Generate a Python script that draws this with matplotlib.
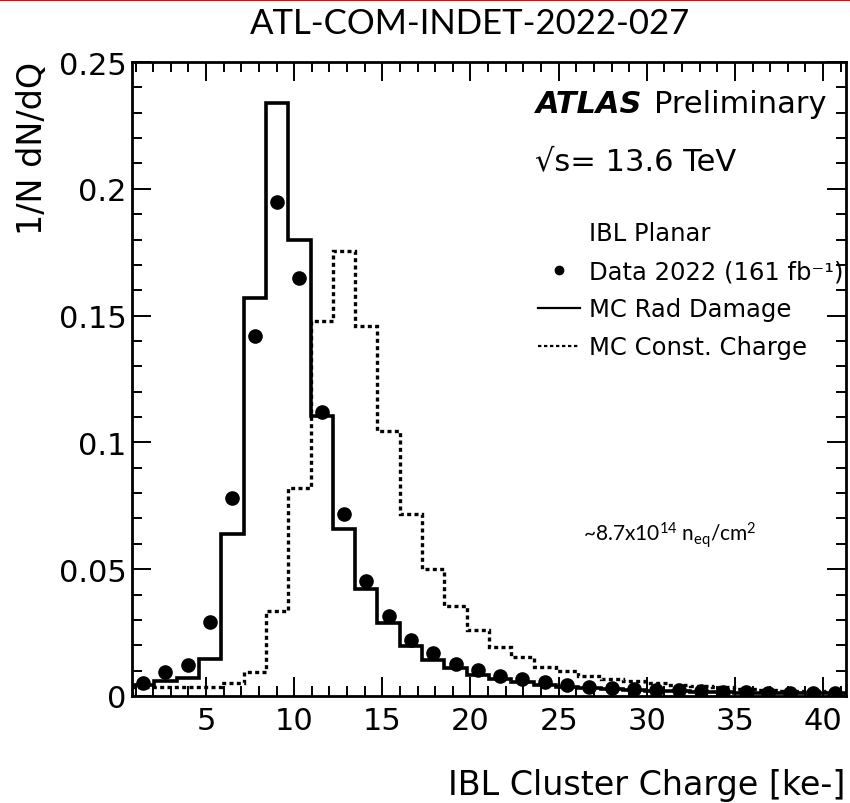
"""ATLAS Preliminary: IBL planar cluster charge, 2022 data vs two MC models."""

from pathlib import Path

import numpy as np
from matplotlib import pyplot as plt
from matplotlib.figure import Figure
from matplotlib.lines import Line2D
from matplotlib.ticker import FuncFormatter, MultipleLocator

# 32 equal-width bins in cluster charge [ke-]
BIN_LOW = 0.8
BIN_HIGH = 41.3
N_BINS = 32

# normalised entries per bin (1/N dN/dQ)
DATA_2022 = [
    0.0052, 0.0094, 0.0123, 0.0290, 0.0780, 0.1420, 0.1950, 0.1650,
    0.1120, 0.0717, 0.0454, 0.0316, 0.0222, 0.0170, 0.0127, 0.0104,
    0.0080, 0.0067, 0.0054, 0.0045, 0.0037, 0.0032, 0.0028, 0.0025,
    0.0022, 0.0019, 0.0016, 0.0014, 0.0013, 0.0012, 0.0012, 0.0011,
]
MC_RAD_DAMAGE = [
    0.0045, 0.0060, 0.0070, 0.0145, 0.0640, 0.1570, 0.2340, 0.1800,
    0.1106, 0.0660, 0.0420, 0.0287, 0.0197, 0.0140, 0.0110, 0.0083,
    0.0067, 0.0054, 0.0042, 0.0035, 0.0030, 0.0026, 0.0022, 0.0020,
    0.0018, 0.0016, 0.0014, 0.0013, 0.0012, 0.0011, 0.0010, 0.0010,
]
MC_CONST_CHARGE = [
    0.0037, 0.0036, 0.0035, 0.0037, 0.0052, 0.0094, 0.0336, 0.0819,
    0.1480, 0.1753, 0.1460, 0.1044, 0.0718, 0.0499, 0.0355, 0.0259,
    0.0193, 0.0153, 0.0116, 0.0100, 0.0078, 0.0067, 0.0058, 0.0051,
    0.0043, 0.0038, 0.0034, 0.0028, 0.0024, 0.0020, 0.0018, 0.0015,
]

X_TICKS = [5, 10, 15, 20, 25, 30, 35, 40]
Y_TICKS = [0.0, 0.05, 0.10, 0.15, 0.20, 0.25]

LEGEND_LABELS = [
    "IBL Planar",
    "Data 2022 (161 fb\u207b\u00b9)",
    "MC Rad Damage",
    "MC Const. Charge",
]


def plot_cluster_charge(output_path: str | Path = "out.png") -> Figure:
    """Draw the cluster-charge comparison in ATLAS/ROOT style."""
    plt.rcParams["font.family"] = ["DejaVu Sans"]
    plt.rcParams["mathtext.fontset"] = "dejavusans"
    plt.rcParams["mathtext.default"] = "regular"

    edges = np.linspace(BIN_LOW, BIN_HIGH, N_BINS + 1)
    centers = 0.5 * (edges[:-1] + edges[1:])

    figure = plt.figure(figsize=(8.5, 8.04), dpi=100)
    axis = figure.add_axes([0.1553, 0.1331, 0.840, 0.7885])

    axis.stairs(MC_CONST_CHARGE, edges, color="black", linewidth=2.4,
                linestyle=(0, (1.2, 1.0)))
    axis.stairs(MC_RAD_DAMAGE, edges, color="black", linewidth=2.6)
    axis.plot(centers, DATA_2022, "o", color="black", markersize=9.5)

    axis.set_xlim(BIN_LOW, BIN_HIGH)
    axis.set_ylim(0, 0.25)
    _style_axis(axis)
    _add_labels(figure, axis)

    _finish_plot(figure, output_path)
    return figure


def _style_axis(axis: object) -> None:
    """ROOT-like ticks: inside, on all four sides."""
    axis.set_xticks(X_TICKS)
    axis.set_yticks(Y_TICKS)
    axis.xaxis.set_minor_locator(MultipleLocator(1))
    axis.yaxis.set_minor_locator(MultipleLocator(0.01))
    axis.yaxis.set_major_formatter(FuncFormatter(lambda value, _: f"{value:g}"))
    axis.tick_params(which="both", direction="in", top=True, right=True,
                     labelsize=22, width=1.4)
    axis.tick_params(which="major", length=14)
    axis.tick_params(which="minor", length=7)
    axis.tick_params(axis="x", pad=7)
    axis.tick_params(axis="y", pad=4)
    for spine in axis.spines.values():
        spine.set_linewidth(2.0)


def _add_labels(figure: Figure, axis: object) -> None:
    """Axis titles, ATLAS label, legend and annotations."""
    figure.text(0.994, 0.011, "IBL Cluster Charge [ke-]", ha="right",
                va="baseline", fontsize=24)
    figure.text(0.038, 0.923, "1/N dN/dQ", rotation=90, ha="center",
                va="top", fontsize=24)
    figure.text(0.553, 0.970, "ATL-COM-INDET-2022-027", ha="center",
                va="center", fontsize=25, family=["Lato", "DejaVu Sans"])
    figure.add_artist(Line2D([0, 1], [0.9985, 0.9985], color="red",
                             linewidth=1.5, transform=figure.transFigure))

    axis.text(0.5658, 0.9211, "ATLAS", transform=axis.transAxes,
              fontsize=22, fontweight="bold", fontstyle="italic",
              va="baseline")
    axis.text(0.7310, 0.9211, "Preliminary", transform=axis.transAxes,
              fontsize=22, va="baseline")
    axis.text(0.5644, 0.8312, "\u221as= 13.6 TeV", transform=axis.transAxes,
              fontsize=22, va="baseline")
    axis.text(0.6317, 0.2465,
              r"~8.7x10$^{14}$ n$_{eq}$/cm$^{2}$",
              transform=axis.transAxes, fontsize=15, va="baseline",
              family=["Lato", "DejaVu Sans"])

    handles = [
        Line2D([], [], linestyle="none"),
        Line2D([], [], marker="o", linestyle="none", color="black",
               markersize=6),
        Line2D([], [], color="black", linewidth=1.6),
        Line2D([], [], color="black", linewidth=1.6, linestyle=(0, (1.5, 1.2))),
    ]
    axis.legend(handles, LEGEND_LABELS, loc="upper left",
                bbox_to_anchor=(0.5686, 0.7490), frameon=False,
                fontsize=17.5, handlelength=1.72, handletextpad=0.37,
                labelspacing=0.58, borderpad=0, borderaxespad=0)


def _finish_plot(figure: Figure, output_path: str | Path) -> None:
    """Save the figure."""
    path = Path(output_path)
    path.parent.mkdir(parents=True, exist_ok=True)
    figure.savefig(path, dpi=100)


if __name__ == "__main__":
    plot_cluster_charge("out.png")
